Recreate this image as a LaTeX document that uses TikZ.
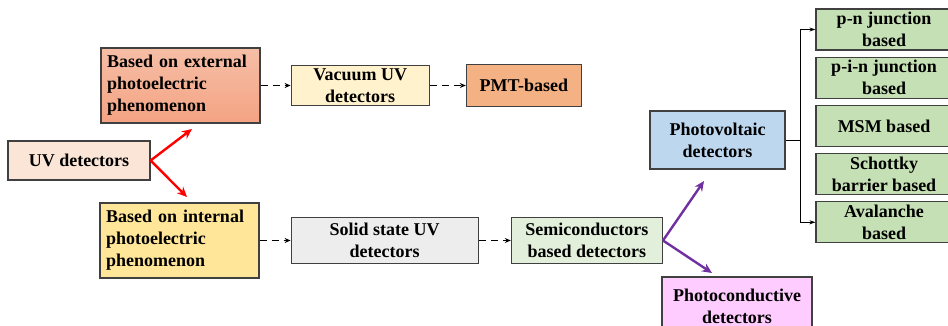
\documentclass[tikz,border=0pt]{standalone}
\usepackage{fontspec}
\setmainfont{Liberation Serif}
\usepackage{xcolor}
\usepackage{tikz}
\usetikzlibrary{arrows.meta, positioning}

\definecolor{uvfill}{HTML}{FBE5D6}
\definecolor{exttop}{HTML}{F6BEA6}
\definecolor{extbot}{HTML}{F4A383}
\definecolor{intfill}{HTML}{FFE699}
\definecolor{vacfill}{HTML}{FFF2CC}
\definecolor{pmtfill}{HTML}{F4B183}
\definecolor{solidfill}{HTML}{EDEDED}
\definecolor{semifill}{HTML}{E2EFDA}
\definecolor{pvfill}{HTML}{BDD7EE}
\definecolor{pcfill}{HTML}{FFCCFF}
\definecolor{typefill}{HTML}{C5E0B4}
\definecolor{branchred}{HTML}{FF0000}
\definecolor{branchpurple}{HTML}{7030A0}

\begin{document}
\begin{tikzpicture}[x=1pt, y=-1pt, font=\fontsize{18}{22}\selectfont\bfseries, node distance=30pt,
    box/.style={draw=black!75, line width=1.2pt, inner xsep=6pt, inner ysep=0pt, align=center},
    leftbox/.style={box, text width=147pt, align=left, minimum height=75pt},
    typebox/.style={box, fill=typefill, minimum width=136pt, minimum height=41pt},
    dasharrow/.style={line width=1.5pt, dash pattern=on 7pt off 5pt, -{Stealth[length=6pt, width=5pt]}},
    redarrow/.style={draw=branchred, line width=2.4pt, -{Stealth[length=10pt, width=9pt]}},
    purplearrow/.style={draw=branchpurple, line width=2.4pt, -{Stealth[length=10pt, width=9pt]}},
    busarrow/.style={line width=0.8pt, -{Stealth[length=6pt, width=4pt]}}]
  \clip (0,0) rectangle (948,326);
  % left part
  \node[box, fill=uvfill, minimum width=142pt, minimum height=39pt] (uv) at (79,160.5) {UV detectors};
  \node[leftbox, top color=exttop, bottom color=extbot] (ext) at (180.5,85.5)
    {Based on external\\photoelectric\\phenomenon};
  \node[leftbox, fill=intfill] (int) at (179.5,240.5)
    {Based on internal\\photoelectric\\phenomenon};
  % upper row
  \node[box, fill=vacfill, minimum width=138pt, minimum height=40pt, right=30pt of ext] (vac)
    {Vacuum UV\\detectors};
  \node[box, fill=pmtfill, minimum width=115pt, minimum height=42pt, right=36pt of vac] (pmt)
    {PMT-based};
  % lower row
  \node[box, fill=solidfill, minimum width=187pt, minimum height=46pt, right=31pt of int] (solid)
    {Solid state UV\\detectors};
  \node[box, fill=semifill, minimum width=151pt, minimum height=46pt, right=32pt of solid] (semi)
    {Semiconductors\\based detectors};
  \node[box, fill=pvfill, minimum width=135pt, minimum height=58pt] (pv) at (717.5,140)
    {Photovoltaic\\detectors};
  \node[box, fill=pcfill, minimum width=150pt, minimum height=58pt] (pc) at (737,306)
    {Photoconductive\\detectors};
  % photovoltaic types
  \node[typebox] (pn) at (884,29.5) {p-n junction\\based};
  \node[typebox, below=6pt of pn] (pin) {p-i-n junction\\based};
  \node[typebox, below=6pt of pin] (msm) {MSM based};
  \node[typebox, below=6pt of msm] (sch) {Schottky\\barrier based};
  \node[typebox, below=6pt of sch] (ava) {Avalanche\\based};
  % connectors
  \foreach \a/\b in {ext/vac, vac/pmt, int/solid, solid/semi}
    \draw[dasharrow] (\a) -- (\b);
  \coordinate (extin) at (192,129);
  \coordinate (intin) at (187,197);
  \draw[redarrow] (uv.east) -- (extin);
  \draw[redarrow] (uv.east) -- (intin);
  \coordinate (pvin) at (704,181);
  \coordinate (pcin) at (712,273);
  \draw[purplearrow] (semi.east) -- (pvin);
  \draw[purplearrow] (semi.east) -- (pcin);
  \coordinate[right=15pt of pv.east] (bus);
  \draw[line width=0.8pt] (pv.east) -- (bus);
  \draw[busarrow] (bus) |- (pn.west);
  \draw[busarrow] (bus) |- (ava.west);
\end{tikzpicture}
\end{document}
